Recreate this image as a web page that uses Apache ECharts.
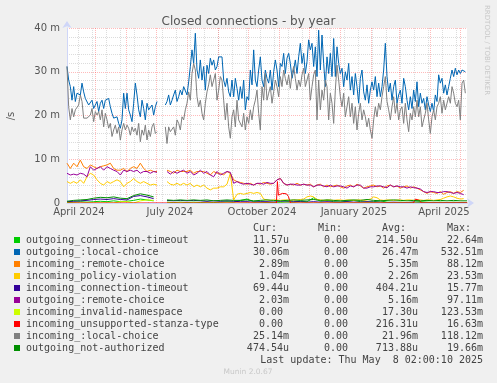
<!DOCTYPE html>
<html><head><meta charset="utf-8">
<script src="https://cdn.jsdelivr.net/npm/echarts@6/dist/echarts.min.js"></script>
<style>html,body{margin:0;padding:0;background:#f0f0f0;}#c{width:497px;height:383px;}</style>
</head><body><div id="c"></div>
<script>
// ---------- time frame (400 days, Munin yearly graph) ----------
const START = Date.UTC(2024, 3, 3, 2, 0, 0);
const END = Date.UTC(2025, 4, 8, 2, 0, 0);
const HOUR = 3600000;

// ---------- legend / series meta ----------
const seriesNames = ['outgoing_connection-timeout','outgoing_:local-choice','incoming_:remote-choice','incoming_policy-violation','incoming_connection-timeout','outgoing_:remote-choice','incoming_invalid-namespace','incoming_unsupported-stanza-type','incoming_:local-choice','outgoing_not-authorized'];
const seriesColors = ['#00CC00','#0066B3','#FF8000','#FFCC00','#330099','#990099','#CCFF00','#FF0000','#808080','#008F00'];
const curValues = ['11.57u','30.06m','2.89m','1.04m','69.44u','2.03m','0.00','0.00','25.14m','474.54u'];
const minValues = ['0.00','0.00','0.00','0.00','0.00','0.00','0.00','0.00','0.00','0.00'];
const avgValues = ['214.50u','26.47m','5.35m','2.26m','404.21u','5.16m','17.30u','216.31u','21.96m','713.88u'];
const maxValues = ['22.64m','532.51m','88.12m','23.53m','15.77m','97.11m','123.53m','16.63m','118.12m','19.66m'];

// ---------- axis ticks ----------
const yTicks = [0, 10, 20, 30, 40];
const xTickLabels = ['April 2024','July 2024','October 2024','January 2025','April 2025'];
const xTickDates = ['2024-04-15','2024-07-15','2024-10-15','2025-01-15','2025-04-15'];
const monthStarts = ['2024-05-01','2024-06-01','2024-07-01','2024-08-01','2024-09-01','2024-10-01','2024-11-01','2024-12-01','2025-01-01','2025-02-01','2025-03-01','2025-04-01','2025-05-01'];

// ---------- values (milli per second), sampled every 40 h ----------
const outgoingLocalChoice = [
31.2,28.1,26.6,23.5,26.6,23.2,25.1,25.4,24.7,27.4,
25.4,23.9,23.9,22.4,22.8,23.5,21.6,22.0,23.2,20.9,
22.8,23.5,21.6,23.5,23.9,23.9,22.0,20.5,19.4,19.0,
19.7,18.2,17.1,19.0,25.1,21.6,25.1,21.3,20.1,18.6,
22.8,27.4,24.7,21.3,19.7,23.5,21.6,19.0,22.8,21.3,
21.6,22.4,20.1,22.0,23.2,null,null,null,null,
22.4,23.2,24.7,22.4,23.5,24.7,25.8,23.2,24.3,25.8,
24.7,26.6,26.2,24.7,27.7,31.2,35.0,31.9,38.8,30.4,
28.5,32.7,28.1,31.2,25.8,31.5,29.6,33.1,31.5,32.7,
30.4,31.2,33.4,33.1,33.4,28.1,26.6,28.5,25.4,24.3,
28.1,24.3,28.5,26.2,23.5,
26.6,23.9,28.1,21.3,24.3,23.5,30.4,27.0,35.0,28.1,
26.6,30.4,33.4,28.1,26.6,30.4,28.5,27.4,30.4,25.8,
30.0,32.7,30.4,26.6,31.9,31.2,34.2,29.6,33.1,34.2,
31.9,28.5,30.4,32.7,29.6,33.4,36.5,31.9,34.2,29.6,
32.3,37.3,35.0,36.5,31.2,35.7,28.9,39.5,30.4,38.4,
31.9,26.6,33.4,29.6,34.2,28.9,37.6,28.9,35.7,31.9,
29.6,30.8,26.6,30.0,28.1,31.9,25.8,28.9,24.7,29.6,
26.6,22.8,28.5,30.4,25.4,23.5,27.0,22.8,25.8,27.7,
25.8,28.9,24.3,27.4,24.3,26.6,30.4,36.5,28.9,25.4,
27.4,23.5,26.6,28.1,22.8,24.7,25.8,22.8,28.5,26.6,
23.5,21.3,24.3,21.6,25.8,23.2,27.7,22.0,25.1,22.8,
23.9,21.3,24.3,22.4,20.9,22.8,20.9,24.7,23.2,29.3,
27.4,28.5,25.1,27.0,24.7,26.6,28.5,30.4,28.9,30.8,
29.3,30.4,29.6,30.4,30.8,30.0];
const incomingLocalChoice = [
31.2,22.0,19.0,21.6,19.7,21.3,20.9,22.4,24.7,23.2,
19.4,19.7,19.4,19.7,20.1,21.6,18.6,20.9,20.1,20.9,
19.0,21.3,17.4,20.5,19.0,17.1,18.2,15.2,16.7,17.8,
15.9,17.4,14.4,16.7,18.2,16.7,17.8,17.1,15.5,17.4,
16.3,17.1,15.5,18.2,14.0,16.7,15.5,17.8,14.4,16.7,
15.2,17.4,18.2,15.9,16.3,null,null,null,null,
17.4,13.6,17.4,16.3,15.9,17.4,15.5,19.0,18.2,16.7,
19.7,19.0,21.3,22.8,25.4,23.5,29.6,31.9,30.4,24.3,
22.0,23.5,20.5,19.0,22.8,25.4,27.0,29.3,26.6,28.1,
29.6,23.5,25.8,28.9,28.1,23.5,19.0,22.8,17.4,14.8,
19.7,21.3,17.4,23.5,19.0,
19.0,17.4,20.5,16.7,19.7,18.2,21.3,19.0,22.0,23.5,
25.8,20.5,16.7,26.6,23.5,29.6,23.5,25.1,26.6,22.8,
25.4,28.1,26.6,24.3,28.9,26.6,30.4,28.5,27.0,29.3,
26.2,29.6,31.2,28.5,25.8,28.1,26.6,29.3,30.8,26.6,
28.1,29.6,23.5,26.6,29.3,30.4,19.0,28.1,21.3,25.8,
23.5,28.1,26.6,19.0,25.1,22.8,18.2,25.8,31.5,28.1,
24.3,22.0,25.1,19.7,22.0,24.3,19.7,22.8,18.2,22.0,
16.7,20.5,22.8,19.0,21.3,19.7,17.4,19.4,16.7,14.8,
19.0,22.0,19.7,22.8,21.3,24.3,26.6,28.9,23.2,21.3,
19.0,22.0,24.3,20.5,22.8,19.0,21.3,22.0,18.2,22.8,
19.0,16.3,20.5,19.0,22.0,19.7,23.5,19.7,22.0,17.4,
19.0,20.5,22.8,19.0,15.9,19.7,21.3,19.0,22.0,22.8,
24.3,20.5,23.5,21.3,22.8,24.3,22.8,26.6,25.1,22.8,
22.0,23.5,19.0,27.4,28.1,25.1];

// ---------- sampled every 80 h ----------
const incomingRemoteChoice = [
9.1,7.9,9.1,8.3,9.8,8.3,7.9,8.7,8.3,7.9,
8.3,8.5,8.7,9.1,7.9,7.5,7.5,7.9,7.2,7.9,
8.3,7.9,9.1,7.9,7.2,7.5,7.2,7.2,null,null,
7.5,7.2,6.8,7.5,7.2,7.2,7.2,7.5,6.8,7.2,
7.2,7.2,6.8,6.4,7.2,6.8,6.8,6.4,7.2,6.8,
5.3,4.9,
4.7,4.5,4.3,4.5,4.1,4.5,4.3,4.7,4.5,4.3,
4.5,5.3,5.6,4.5,4.1,4.3,4.1,4.5,4.1,4.3,
4.1,4.3,3.7,4.1,4.3,3.7,4.1,3.7,3.9,4.1,
3.7,3.4,3.9,4.1,3.7,4.3,3.9,3.4,3.7,3.9,
4.1,3.7,3.9,3.4,3.9,4.1,3.7,3.9,3.4,3.7,
3.9,3.4,3.7,3.4,3.0,2.6,2.2,2.6,2.4,2.2,
2.6,2.0,2.4,2.6,2.2,2.6,2.4,2.9];
const outgoingRemoteChoice = [
6.8,6.4,6.6,6.4,6.8,6.6,6.0,8.3,7.5,7.9,
8.3,7.5,8.3,7.9,7.5,7.2,6.4,7.5,7.2,7.5,
7.2,7.5,6.8,7.2,7.2,6.8,7.2,7.0,null,null,
7.2,6.6,7.2,6.8,7.2,7.5,6.8,7.2,6.4,6.8,
7.5,6.8,7.2,6.4,6.0,7.2,6.4,6.8,7.2,7.0,
4.5,4.9,
4.5,4.3,4.5,4.3,4.1,4.5,4.5,4.3,4.7,4.5,
4.5,5.3,5.6,4.5,4.1,4.3,4.3,4.1,4.1,4.3,
4.1,4.1,3.7,4.1,4.1,3.9,3.7,4.1,3.7,3.9,
3.9,3.7,3.4,3.9,3.7,4.1,4.1,3.4,3.4,3.7,
3.7,3.9,3.9,3.7,3.5,4.1,3.7,3.9,3.7,3.7,
3.4,3.7,3.5,3.4,3.2,2.6,2.4,2.6,2.6,2.4,
2.4,2.6,2.6,2.4,2.2,2.4,2.2,1.9];
const incomingPolicyViolation = [
4.9,4.5,4.9,4.5,5.3,4.5,6.0,6.8,6.4,5.3,
4.5,4.1,4.9,4.5,4.9,5.3,4.9,3.7,4.5,4.9,
5.6,4.9,4.5,4.9,4.5,4.1,4.3,4.1,null,null,
4.9,4.3,4.1,4.5,4.1,4.5,4.1,4.5,3.7,4.1,
3.7,4.1,3.4,3.0,3.4,3.4,3.7,3.7,4.3,6.8,
0.7,2.0,
2.2,2.0,2.2,2.4,2.2,2.4,2.2,0.9,0.7,0.6,
0.7,0.7,0.6,0.7,0.7,0.6,0.7,0.7,0.8,0.9,
1.4,1.6,1.4,0.8,0.7,0.6,0.7,0.7,0.6,0.7,
0.7,0.6,0.7,0.7,0.6,0.7,0.7,0.6,0.7,0.9,
1.4,1.2,0.7,0.6,0.7,0.7,0.6,0.7,0.7,0.6,
0.7,0.7,0.6,0.7,0.7,0.6,0.7,0.7,0.6,0.7,
0.8,1.1,1.4,1.6,1.4,1.1,0.9,1.0];

// ---------- sampled every 160 h ----------
const outgoingConnectionTimeout = [
0.1,0.2,0.3,0.2,0.3,0.4,0.3,0.5,0.3,0.4,0.6,0.9,0.7,0.5,null,0.2,0.1,0.2,0.1,0.2,0.1,0.2,0.1,0.2,0.3,0.2,
0.6,0.9,0.3,0.2,0.1,0.2,0.1,0.3,0.2,0.4,0.3,1.2,0.4,0.6,0.3,0.2,0.4,0.6,0.3,0.2,0.3,0.5,0.2,0.1,0.2,0.1,0.2,0.3,0.2,0.1,0.2,0.1,0.2,0.1,0.0];
const incomingConnectionTimeout = [
0.3,0.4,0.5,0.6,0.8,0.9,0.8,1.0,0.8,0.7,1.5,1.7,1.4,1.0,null,0.6,0.5,0.6,0.5,0.6,0.5,0.4,0.5,0.4,0.5,0.4,
0.3,0.3,0.2,0.3,0.3,0.2,0.3,0.2,0.3,0.3,0.2,0.3,0.2,0.3,0.2,0.2,0.3,0.2,0.2,0.3,0.2,0.2,0.1,0.2,0.1,0.1,0.2,0.1,0.1,0.1,0.1,0.1,0.1,0.1,0.1];
const incomingInvalidNamespace = [
0,0,0,0,0,0,0,0,0.3,0.3,0,0.5,0.7,0.6,null,0,0,0,0,0,0,0,0,0,0,0,
0,0,0,0,0,0,0,0,0,0,0,0,0,0,0,0,0,0,0,0,0,0,0,0,0,0,0,0,0,0,0,0,0,0,0];
const outgoingNotAuthorized = [
0.4,0.6,0.7,0.8,1.1,1.3,1.2,1.4,1.1,1.0,1.7,2.1,1.8,1.4,null,0.7,0.6,0.7,0.6,0.7,0.6,0.7,0.5,0.6,0.7,0.6,
0.6,0.7,0.5,0.6,0.7,0.6,0.5,0.6,0.7,0.6,0.7,0.8,0.6,0.7,0.6,0.5,0.6,0.7,0.6,0.8,0.6,0.5,0.6,0.7,0.6,0.5,0.6,0.5,0.6,0.5,0.6,0.5,0.6,0.5,0.5];
// ---------- sparse series given as [date, value] ----------
const incomingUnsupportedStanza = [
['2024-04-03',0],['2024-10-29',0],['2024-10-30',4.9],['2024-10-31',1.8],['2024-11-02',1.6],['2024-11-04',2.2],
['2024-11-06',1.9],['2024-11-08',2.1],['2024-11-10',1.5],['2024-11-12',0],['2025-03-15',0],['2025-03-17',0.9],
['2025-03-19',1.1],['2025-03-21',0.6],['2025-03-23',0],['2025-05-08',0]];

// ---------- build ----------
function stepped(values, stepHours) { return values.map((v, i) => [START + i * stepHours * HOUR, v]); }
function dated(pairs) { return pairs.map(p => [Date.parse(p[0] + 'T12:00:00Z'), p[1]]); }
const seriesData = [
  stepped(outgoingConnectionTimeout, 160),
  stepped(outgoingLocalChoice, 40),
  stepped(incomingRemoteChoice, 80),
  stepped(incomingPolicyViolation, 80),
  stepped(incomingConnectionTimeout, 160),
  stepped(outgoingRemoteChoice, 80),
  stepped(incomingInvalidNamespace, 160),
  dated(incomingUnsupportedStanza),
  stepped(incomingLocalChoice, 40),
  stepped(outgoingNotAuthorized, 160)
];

// grid lines are shifted half a day so they land on whole pixels (1 px = 1 day)
const CRISP = 14 * HOUR;
const labelTimes = xTickDates.map(d => Date.parse(d + 'T00:00:00Z'));
const majorTimes = monthStarts.map(d => Date.parse(d + 'T00:00:00Z') + CRISP);
const minorTimes = [];
for (let t = Date.UTC(2024, 3, 14) + CRISP; t < END; t += 14 * 24 * HOUR) minorTimes.push(t);

const gridRed = 'rgba(255,40,40,0.32)';
const gridGrey = 'rgba(128,128,128,0.28)';
const FONT = 'DejaVu Sans';
const MONO = 'DejaVu Sans Mono';

const series = seriesData.map((data, i) => ({
  type: 'line', name: seriesNames[i], data: data, showSymbol: false, symbol: 'none',
  connectNulls: false, animation: false, silent: true, z: 3,
  lineStyle: { width: 1, color: seriesColors[i] }, itemStyle: { color: seriesColors[i] }
}));
series.unshift({
  type: 'line', data: [], silent: true, z: 1, animation: false,
  markLine: { silent: true, symbol: ['none','none'], animation: false, z: 1, label: { show: false },
    lineStyle: { color: gridGrey, type: [1, 1], width: 1 },
    data: minorTimes.map(t => ({ xAxis: t })) }
}, {
  type: 'line', data: [], silent: true, z: 1, animation: false,
  markLine: { silent: true, symbol: ['none','none'], animation: false, z: 1, label: { show: false },
    lineStyle: { color: gridRed, type: [1, 1], width: 1 },
    data: majorTimes.map(t => ({ xAxis: t })) }
});

// legend graphics
const graphics = [];
const rowY0 = 240, rowH = 12;
function cell(txt, x, y, align, color) {
  return { type: 'text', x: x, y: y, silent: true,
    style: { text: txt, x: 0, y: 0, fill: color || '#444', font: '10px "' + MONO + '"', textAlign: align, textVerticalAlign: 'middle' } };
}
graphics.push(cell('Cur:', 253, 228, 'left'), cell('Min:', 318, 228, 'left'), cell('Avg:', 382, 228, 'left'), cell('Max:', 447, 228, 'left'));
const pad = v => /[a-z]$/i.test(v) ? v : v + ' ';
seriesNames.forEach((n, i) => {
  const y = rowY0 + i * rowH;
  graphics.push({ type: 'rect', silent: true, shape: { x: 14, y: y - 3, width: 6, height: 6 }, style: { fill: seriesColors[i] } });
  graphics.push(cell(n, 26, y, 'left'));
  graphics.push(cell(pad(curValues[i]), 289, y, 'right'));
  graphics.push(cell(pad(minValues[i]), 354, y, 'right'));
  graphics.push(cell(pad(avgValues[i]), 418, y, 'right'));
  graphics.push(cell(pad(maxValues[i]), 483, y, 'right'));
});
graphics.push(cell('Last update: Thu May  8 02:00:10 2025', 483, 360, 'right'));
graphics.push({ type: 'text', x: 248, y: 372, silent: true, style: { text: 'Munin 2.0.67', fill: '#c8c8c8', font: '7.5px "' + FONT + '"', textAlign: 'center', textVerticalAlign: 'middle' } });
graphics.push({ type: 'text', x: 11, y: 116, rotation: Math.PI / 2, silent: true, style: { text: '/s', fill: '#555', font: '10px "' + FONT + '"', textAlign: 'center', textVerticalAlign: 'middle' } });
graphics.push({ type: 'text', x: 487, y: 5, rotation: -Math.PI / 2, silent: true, style: { text: 'RRDTOOL / TOBI OETIKER', fill: '#c8c8c8', font: '7px "' + FONT + '"', textAlign: 'left', textVerticalAlign: 'middle' } });

const chart = echarts.init(document.getElementById('c'), null, { renderer: 'canvas' });
chart.setOption({
  backgroundColor: '#f0f0f0',
  animation: false,
  title: { text: 'Closed connections - by year', left: 'center', top: 11,
    textStyle: { color: '#555', fontWeight: 'normal', fontSize: 12, fontFamily: FONT } },
  grid: { left: 67, right: 30, top: 28, bottom: 180, show: true, backgroundColor: '#ffffff', borderWidth: 0 },
  xAxis: {
    type: 'value', min: START, max: END, z: 10,
    axisLine: { show: true, lineStyle: { color: '#CFD6F8', width: 1 }, symbol: ['none', 'arrow'], symbolSize: [7, 7], symbolOffset: [0, 7] },
    axisTick: { show: false }, splitLine: { show: false },
    axisLabel: { customValues: labelTimes, formatter: v => xTickLabels[labelTimes.indexOf(v)] || '',
      color: '#555', fontSize: 10, fontFamily: FONT, margin: 4, hideOverlap: false, showMinLabel: true, showMaxLabel: true }
  },
  yAxis: {
    type: 'value', min: yTicks[0], max: yTicks[yTicks.length - 1], interval: 10,
    axisLine: { show: true, lineStyle: { color: '#CFD6F8', width: 1 }, symbol: ['none', 'arrow'], symbolSize: [7, 7], symbolOffset: [0, 7] },
    axisTick: { show: false },
    axisLabel: { formatter: v => v === 0 ? '0' : v + ' m', color: '#555', fontSize: 10, fontFamily: FONT, margin: 7 },
    splitLine: { show: true, lineStyle: { color: gridRed, type: [1, 1], width: 1 } },
    minorTick: { show: false, splitNumber: 5 },
    minorSplitLine: { show: true, lineStyle: { color: gridGrey, type: [1, 1], width: 1 } }
  },
  graphic: graphics,
  series: series
});
</script></body></html>
